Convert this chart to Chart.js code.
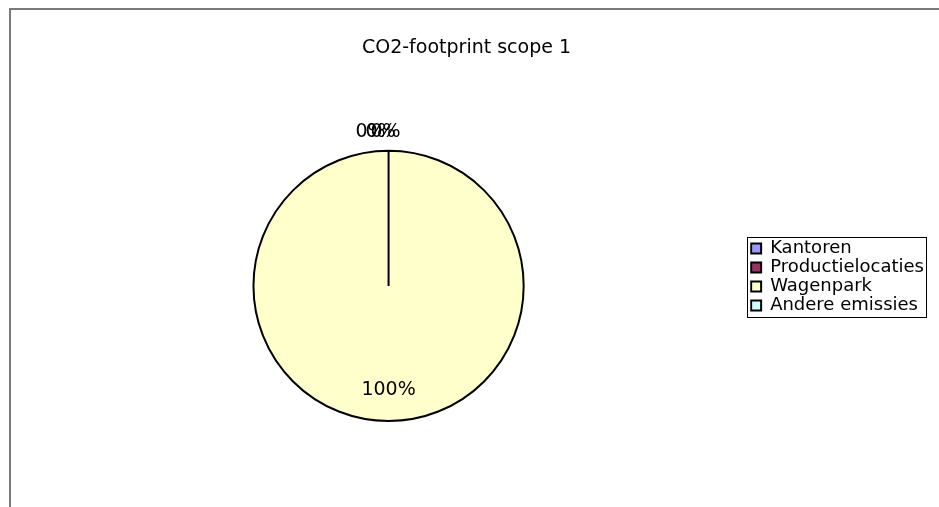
<!DOCTYPE html>
<html>
<head>
<meta charset="utf-8">
<script src="https://cdn.jsdelivr.net/npm/chart.js@4"></script>
<style>
  html, body { margin: 0; padding: 0; background: #fff; }
  #wrap { position: relative; width: 939px; height: 507px; overflow: hidden; }
</style>
</head>
<body>
<div id="wrap"><canvas id="pieChart" width="939" height="507"></canvas></div>
<script>
// data
const categories = ['Kantoren', 'Productielocaties', 'Wagenpark', 'Andere emissies'];
const values = [0, 0, 100, 0];
const sliceColors = ['#9999FF', '#993366', '#FFFFCC', '#CCFFFF'];
const chartTitle = 'CO2-footprint scope 1';

const FONT = "'DejaVu Sans', Verdana, sans-serif";

// frame around the chart object
const framePlugin = {
    id: 'frame',
    beforeDraw(chart) {
        const c = chart.ctx;
        c.save();
        c.strokeStyle = '#7a7a7a';
        c.lineWidth = 2;
        c.strokeRect(10, 9, chart.width + 20, chart.height + 20);
        c.restore();
    }
};

// nudge title and legend into place, box the legend
const legendBoxPlugin = {
    id: 'legendBox',
    afterLayout(chart) {
        const lg = chart.legend;
        lg.top += 66;
        lg.bottom += 66;
        const tb = chart.titleBlock;
        tb.left -= 14;
        tb.right -= 14;
    },
    afterDraw(chart) {
        const boxes = chart.legend.legendHitBoxes;
        if (!boxes || !boxes.length) return;
        let x0 = Infinity, y0 = Infinity, x1 = -Infinity, y1 = -Infinity;
        boxes.forEach(b => {
            x0 = Math.min(x0, b.left);
            y0 = Math.min(y0, b.top);
            x1 = Math.max(x1, b.left + b.width);
            y1 = Math.max(y1, b.top + b.height);
        });
        const c = chart.ctx;
        c.save();
        c.strokeStyle = '#000';
        c.lineWidth = 1;
        c.strokeRect(Math.round(x0 - 4) + 0.5, Math.round(y0 - 3) + 0.5, Math.round(x1 - x0 + 6), Math.round(y1 - y0 + 5));
        c.restore();
    }
};

// percentage labels
const zeroShift = [-18, -3, 0, -8]; // overlapping 0% labels at the top
const pctPlugin = {
    id: 'pctLabels',
    afterDatasetsDraw(chart) {
        const meta = chart.getDatasetMeta(0);
        const data = chart.data.datasets[0].data;
        const total = data.reduce((a, b) => a + b, 0);
        const c = chart.ctx;
        c.save();
        c.font = '19px ' + FONT;
        c.fillStyle = '#000';
        c.textAlign = 'center';
        c.textBaseline = 'middle';
        meta.data.forEach((arc, i) => {
            const p = arc.getProps(['x', 'y', 'startAngle', 'endAngle', 'outerRadius'], true);
            const mid = (p.startAngle + p.endAngle) / 2;
            const pct = Math.round(data[i] / total * 100) + '%';
            let r, dx = 0;
            if (data[i] === 0) {
                r = p.outerRadius + 19;
                dx = zeroShift[i];
            } else {
                r = p.outerRadius * 0.77;
            }
            c.fillText(pct, p.x + Math.cos(mid) * r + dx, p.y + Math.sin(mid) * r);
        });
        c.restore();
    }
};

new Chart(document.getElementById('pieChart'), {
    type: 'pie',
    data: {
        labels: categories,
        datasets: [{
            data: values,
            backgroundColor: sliceColors,
            borderColor: '#000',
            borderWidth: 2
        }]
    },
    options: {
        responsive: false,
        animation: false,
        layout: { padding: { left: 27, right: 5, top: 0, bottom: 85 } },
        plugins: {
            title: {
                display: true,
                text: chartTitle,
                color: '#000',
                font: { family: FONT, size: 19, weight: 'normal' },
                padding: { top: 37, bottom: 90 }
            },
            legend: {
                position: 'right',
                align: 'center',
                labels: {
                    color: '#000',
                    font: { family: FONT, size: 18 },
                    boxWidth: 10,
                    boxHeight: 10,
                    padding: 1
                }
            },
            tooltip: { enabled: false }
        }
    },
    plugins: [framePlugin, legendBoxPlugin, pctPlugin]
});
</script>
</body>
</html>
